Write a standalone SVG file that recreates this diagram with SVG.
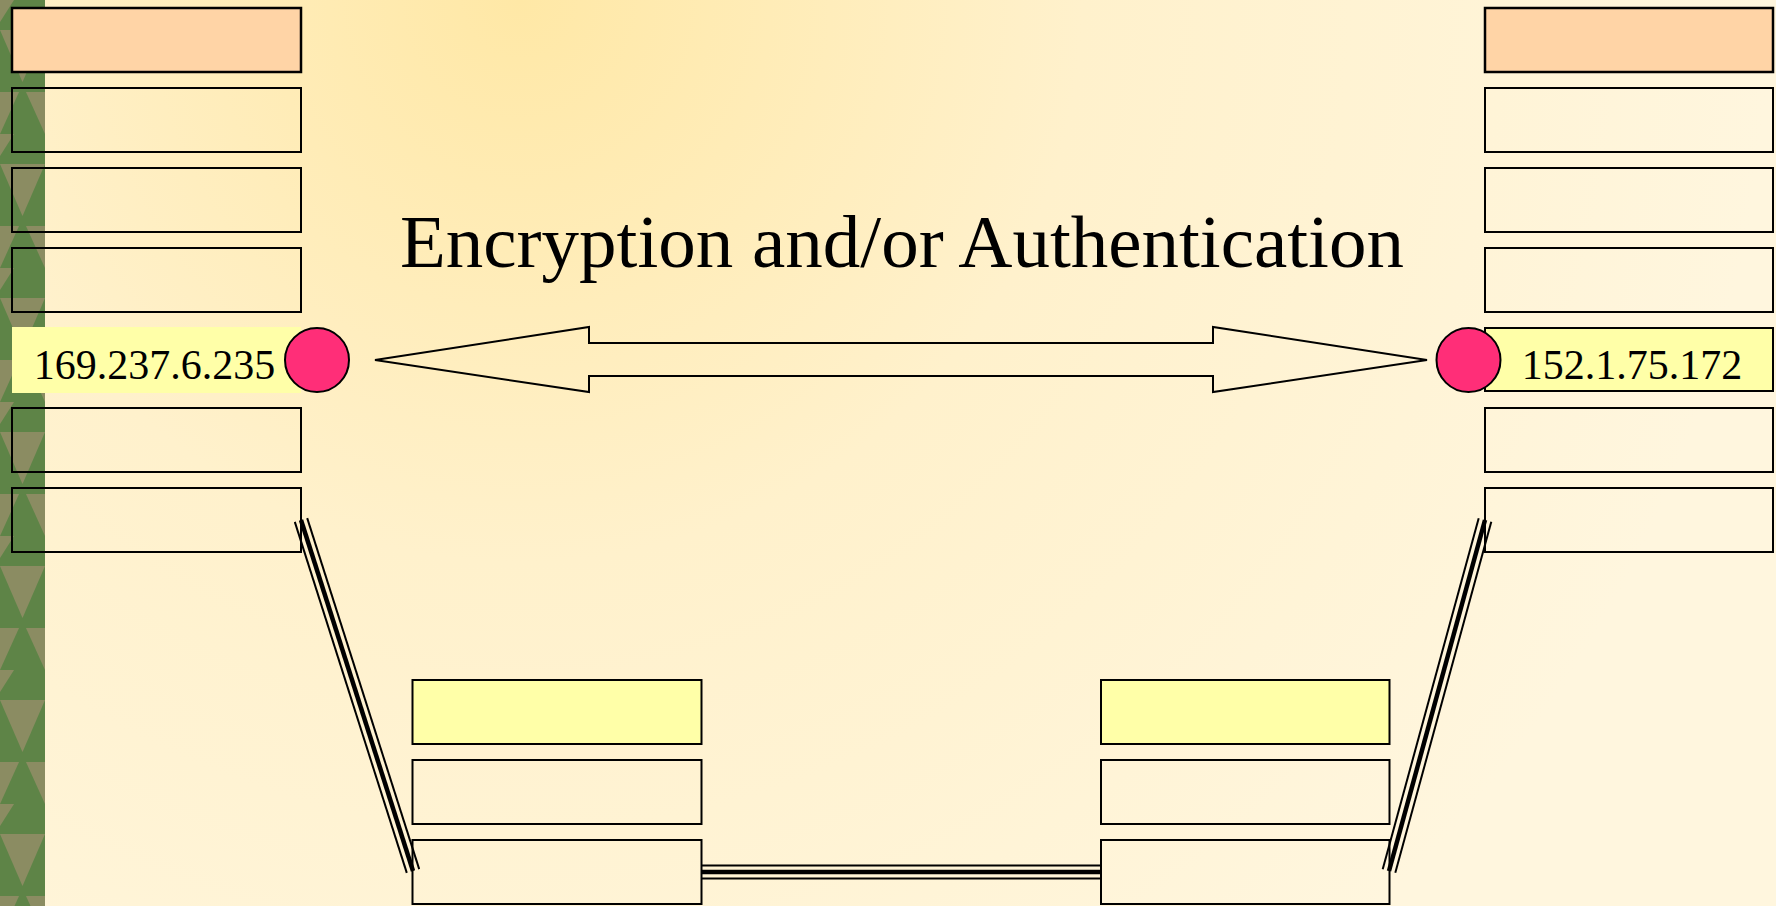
<svg xmlns="http://www.w3.org/2000/svg" width="1776" height="906" viewBox="0 0 1776 906">
  <defs>
    <radialGradient id="bg" cx="520" cy="0" r="1250" gradientUnits="userSpaceOnUse">
      <stop offset="0" stop-color="#FFE8A6"/>
      <stop offset="0.45" stop-color="#FFF1CC"/>
      <stop offset="1" stop-color="#FFF6DE"/>
    </radialGradient>
    <pattern id="tri" x="0" y="0" width="45" height="134" patternUnits="userSpaceOnUse">
      <rect width="45" height="134" fill="#5E8447"/>
      <polygon points="0,30 45,30 22.5,82" fill="#8B8C62"/>
      <polygon points="0,92 19,92 0,134" fill="#8B8C62"/>
      <polygon points="45,92 26,92 45,134" fill="#8B8C62"/>
      <polygon points="0,0 14,0 0,22" fill="#8B8C62"/>
    </pattern>
    <style>
      .box{fill:none;stroke:#000;stroke-width:2}
      .peach{fill:#FFD4A6;stroke:#000;stroke-width:2.5}
      .yellow{fill:#FFFFA8;stroke:#000;stroke-width:2}
      .dot{fill:#FF2E78;stroke:#000;stroke-width:2}
      .lbl{font-family:"Liberation Serif","Times New Roman",serif;font-size:42px;fill:#000}
      .title{font-family:"Liberation Serif","Times New Roman",serif;font-size:75px;fill:#000}
      .thin{stroke:#000;stroke-width:2;fill:none}
      .thick{stroke:#000;stroke-width:4.5;fill:none}
    </style>
  </defs>

  <rect x="0" y="0" width="1776" height="906" fill="url(#bg)"/>
  <rect x="0" y="0" width="45" height="906" fill="url(#tri)"/>

  <text class="title" x="400" y="267">Encryption and/or Authentication</text>

  <g id="connectors">
    <polygon id="arrow" points="375,360 589,327 589,343 1213,343 1213,327 1427,360 1213,392 1213,376 589,376 589,392" fill="none" stroke="#000" stroke-width="2" stroke-linejoin="miter"/>
    <g id="link-left">
      <line class="thin" x1="294.8" y1="521.9" x2="406.8" y2="872.9"/>
      <line class="thick" x1="301" y1="520" x2="413" y2="871"/>
      <line class="thin" x1="307.2" y1="518.1" x2="419.2" y2="869.1"/>
    </g>
    <g id="link-bottom">
      <line class="thin" x1="701" y1="865.5" x2="1101" y2="865.5"/>
      <line class="thick" x1="701" y1="872" x2="1101" y2="872"/>
      <line class="thin" x1="701" y1="878.5" x2="1101" y2="878.5"/>
    </g>
    <g id="link-right">
      <line class="thin" x1="1478.7" y1="518.2" x2="1382.7" y2="869.2"/>
      <line class="thick" x1="1485" y1="520" x2="1389" y2="871"/>
      <line class="thin" x1="1491.3" y1="521.8" x2="1395.3" y2="872.8"/>
    </g>
  </g>

  <g id="host-left">
    <rect class="peach" x="12" y="8" width="289" height="64"/>
    <rect class="box" x="12" y="88" width="289" height="64"/>
    <rect class="box" x="12" y="168" width="289" height="64"/>
    <rect class="box" x="12" y="248" width="289" height="64"/>
    <rect x="12" y="327" width="289" height="66" fill="#FFFFA8"/>
    <text class="lbl" x="154.5" y="379" text-anchor="middle">169.237.6.235</text>
    <rect class="box" x="12" y="408" width="289" height="64"/>
    <rect class="box" x="12" y="488" width="289" height="64"/>
    <circle class="dot" cx="317" cy="360" r="32"/>
  </g>

  <g id="host-right">
    <rect class="peach" x="1485" y="8" width="288" height="64"/>
    <rect class="box" x="1485" y="88" width="288" height="64"/>
    <rect class="box" x="1485" y="168" width="288" height="64"/>
    <rect class="box" x="1485" y="248" width="288" height="64"/>
    <rect class="yellow" x="1485" y="328" width="288" height="63"/>
    <text class="lbl" x="1632" y="379" text-anchor="middle">152.1.75.172</text>
    <rect class="box" x="1485" y="408" width="288" height="64"/>
    <rect class="box" x="1485" y="488" width="288" height="64"/>
    <circle class="dot" cx="1468.5" cy="360" r="32"/>
  </g>

  <g id="router-left">
    <rect class="yellow" x="412.5" y="680" width="289" height="64"/>
    <rect class="box" x="412.5" y="760" width="289" height="64"/>
    <rect class="box" x="412.5" y="840" width="289" height="64"/>
  </g>

  <g id="router-right">
    <rect class="yellow" x="1101" y="680" width="288.5" height="64"/>
    <rect class="box" x="1101" y="760" width="288.5" height="64"/>
    <rect class="box" x="1101" y="840" width="288.5" height="64"/>
  </g>
</svg>
